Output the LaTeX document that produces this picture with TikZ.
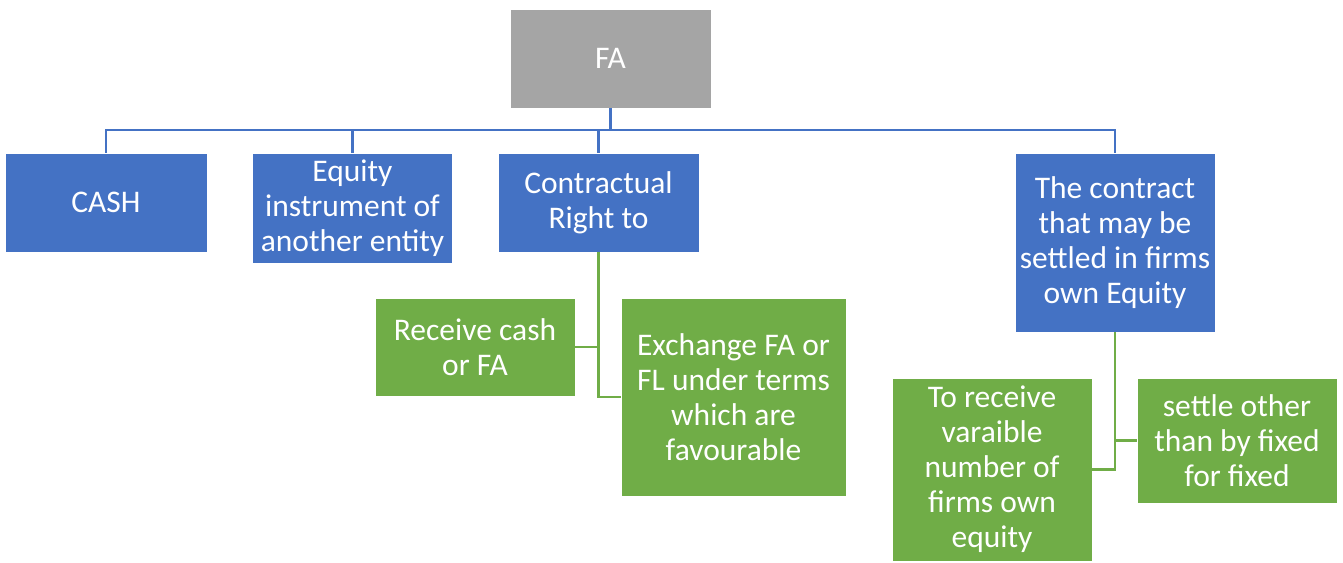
\documentclass[tikz,border=0pt]{standalone}
\usepackage{fontspec}
\setmainfont{Carlito}
\definecolor{officeblue}{HTML}{4472C4}
\definecolor{officegreen}{HTML}{70AD47}
\definecolor{officegray}{HTML}{A5A5A5}
\begin{document}
\begin{tikzpicture}[x=1pt,y=-1pt,
  box/.style={draw=white, line width=0.8pt, text=white, align=center, inner sep=0pt,
    font=\fontsize{31.5}{35}\selectfont},
  bluebox/.style={box, fill=officeblue},
  greenbox/.style={box, fill=officegreen},
  graybox/.style={box, fill=officegray},
  blueline/.style={draw=officeblue, line width=2.7pt},
  greenline/.style={draw=officegreen, line width=2.7pt}]
\useasboundingbox (0,0) rectangle (1343,562);

% top level
\node[graybox, minimum width=201pt, minimum height=99pt] (fa) at (610.5,58.5) {FA};

% first level
\node[bluebox, minimum width=202pt, minimum height=99pt] (cash) at (106,202.5) {CASH};
\node[bluebox, minimum width=200pt, minimum height=110pt] (equity) at (352.5,208) {Equity\\instrument of\\another entity};
\node[bluebox, minimum width=201pt, minimum height=99pt] (contr) at (598.5,202.5) {Contractual\\Right to};
\node[bluebox, minimum width=200pt, minimum height=179pt] (own) at (1115,242.5) {The contract\\that may be\\settled in firms\\own Equity};

% second level
\node[greenbox, minimum width=200pt, minimum height=98pt] (recv) at (475,347) {Receive cash\\or FA};
\node[greenbox, minimum width=225pt, minimum height=198pt] (exch) at (733.5,397) {Exchange FA or\\FL under terms\\which are\\favourable};
\node[greenbox, minimum width=200pt, minimum height=183pt] (torecv) at (992,469.5) {To receive\\varaible\\number of\\firms own\\equity};
\node[greenbox, minimum width=200pt, minimum height=125pt] (settle) at (1237,440.5) {settle other\\than by fixed\\for fixed};

% bus below the root
\coordinate (bus) at (0,130);
\draw[blueline] (fa.south) -- (fa.south |- bus);
\draw[blueline] (cash.north) -- (cash.north |- bus) -- (own.north |- bus) -- (own.north);
\draw[blueline] (equity.north) -- (equity.north |- bus);
\draw[blueline] (contr.north) -- (contr.north |- bus);

% branches below the contractual right
\draw[greenline] (contr.south) |- (recv.east);
\draw[greenline] (contr.south) |- (exch.west);

% branches below the own-equity contract
\draw[greenline] (own.south) |- (settle.west);
\draw[greenline] (own.south) |- (torecv.east);
\end{tikzpicture}
\end{document}
